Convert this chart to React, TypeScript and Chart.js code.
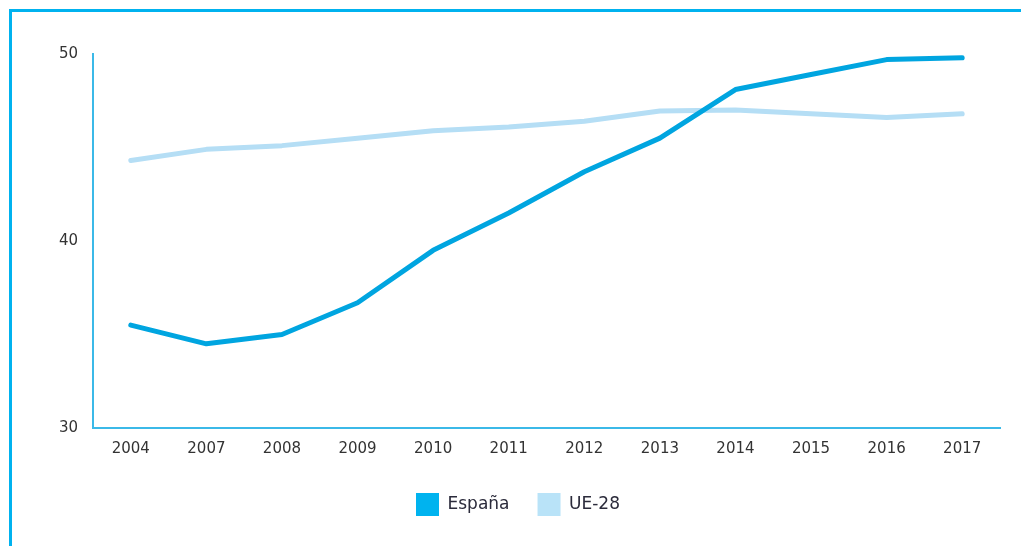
import React, { useEffect, useRef } from "react";
import { Chart, registerables } from "chart.js";

Chart.register(...registerables);

const years = ["2004", "2007", "2008", "2009", "2010", "2011", "2012", "2013", "2014", "2015", "2016", "2017"];
const espana = [35.5, 34.5, 35.0, 36.7, 39.5, 41.5, 43.7, 45.5, 48.1, 48.9, 49.7, 49.8];
const ue28 = [44.3, 44.9, 45.1, 45.5, 45.9, 46.1, 46.4, 46.95, 47.0, 46.8, 46.6, 46.8];
const seriesNames = ["España", "UE-28"];
const lineColors = ["#00a5e0", "#b5def5"];
const boxColors = ["#00b3ef", "#b9e3f8"];
const yTicks = [30, 40, 50];

const FONT = "'DejaVu Sans', sans-serif";

export default function App() {
  const ref = useRef<HTMLCanvasElement>(null);

  useEffect(() => {
    if (!ref.current) return;
    const chart = new Chart(ref.current, {
      type: "line",
      data: {
        labels: years,
        datasets: [espana, ue28].map((d, i) => ({
          label: seriesNames[i],
          data: d,
          borderColor: lineColors[i],
          backgroundColor: boxColors[i],
          borderWidth: 5,
          pointRadius: 0,
          borderCapStyle: "round" as const,
          borderJoinStyle: "round" as const,
          tension: 0,
          fill: false,
        })),
      },
      options: {
        animation: false,
        responsive: false,
        maintainAspectRatio: false,
        layout: { padding: { top: 54, right: 21, bottom: 20, left: 36 } },
        plugins: {
          tooltip: { enabled: false },
          legend: {
            position: "bottom",
            labels: {
              boxWidth: 23,
              boxHeight: 23,
              padding: 28,
              color: "#2b2b3b",
              font: { family: FONT, size: 17 },
              generateLabels: (c: any) =>
                c.data.datasets.map((ds: any, i: number) => ({
                  text: ds.label,
                  fillStyle: boxColors[i],
                  strokeStyle: boxColors[i],
                  lineWidth: 0,
                  hidden: false,
                  datasetIndex: i,
                  fontColor: "#2b2b3b",
                })),
            },
          },
        },
        scales: {
          x: {
            offset: true,
            grid: { display: false, drawTicks: false },
            border: { display: true, color: "#3bb9e8", width: 2 },
            ticks: { color: "#333", font: { family: FONT, size: 15 }, padding: 12, maxRotation: 0, autoSkip: false },
            afterFit: (s: any) => { s.height = 37; },
          },
          y: {
            min: 30,
            max: 50,
            afterBuildTicks: (s: any) => { s.ticks = yTicks.map((v) => ({ value: v })); },
            grid: { display: false, drawTicks: false },
            border: { display: true, color: "#3bb9e8", width: 2 },
            ticks: { color: "#333", font: { family: FONT, size: 15 }, padding: 15 },
            afterFit: (s: any) => { s.width = 57; },
          },
        },
      },
    });
    return () => chart.destroy();
  }, []);

  return (
    <div style={{ position: "absolute", left: 0, top: 0, width: 1021, height: 546, overflow: "hidden", background: "#fff" }}>
      <canvas ref={ref} width={1021} height={546} style={{ position: "absolute", left: 0, top: 0 }} />
      <div
        style={{
          position: "absolute",
          left: 9,
          top: 9,
          width: 1012,
          height: 537,
          borderLeft: "3px solid #00b2ef",
          borderTop: "3px solid #00b2ef",
          boxSizing: "border-box",
          pointerEvents: "none",
        }}
      />
    </div>
  );
}
